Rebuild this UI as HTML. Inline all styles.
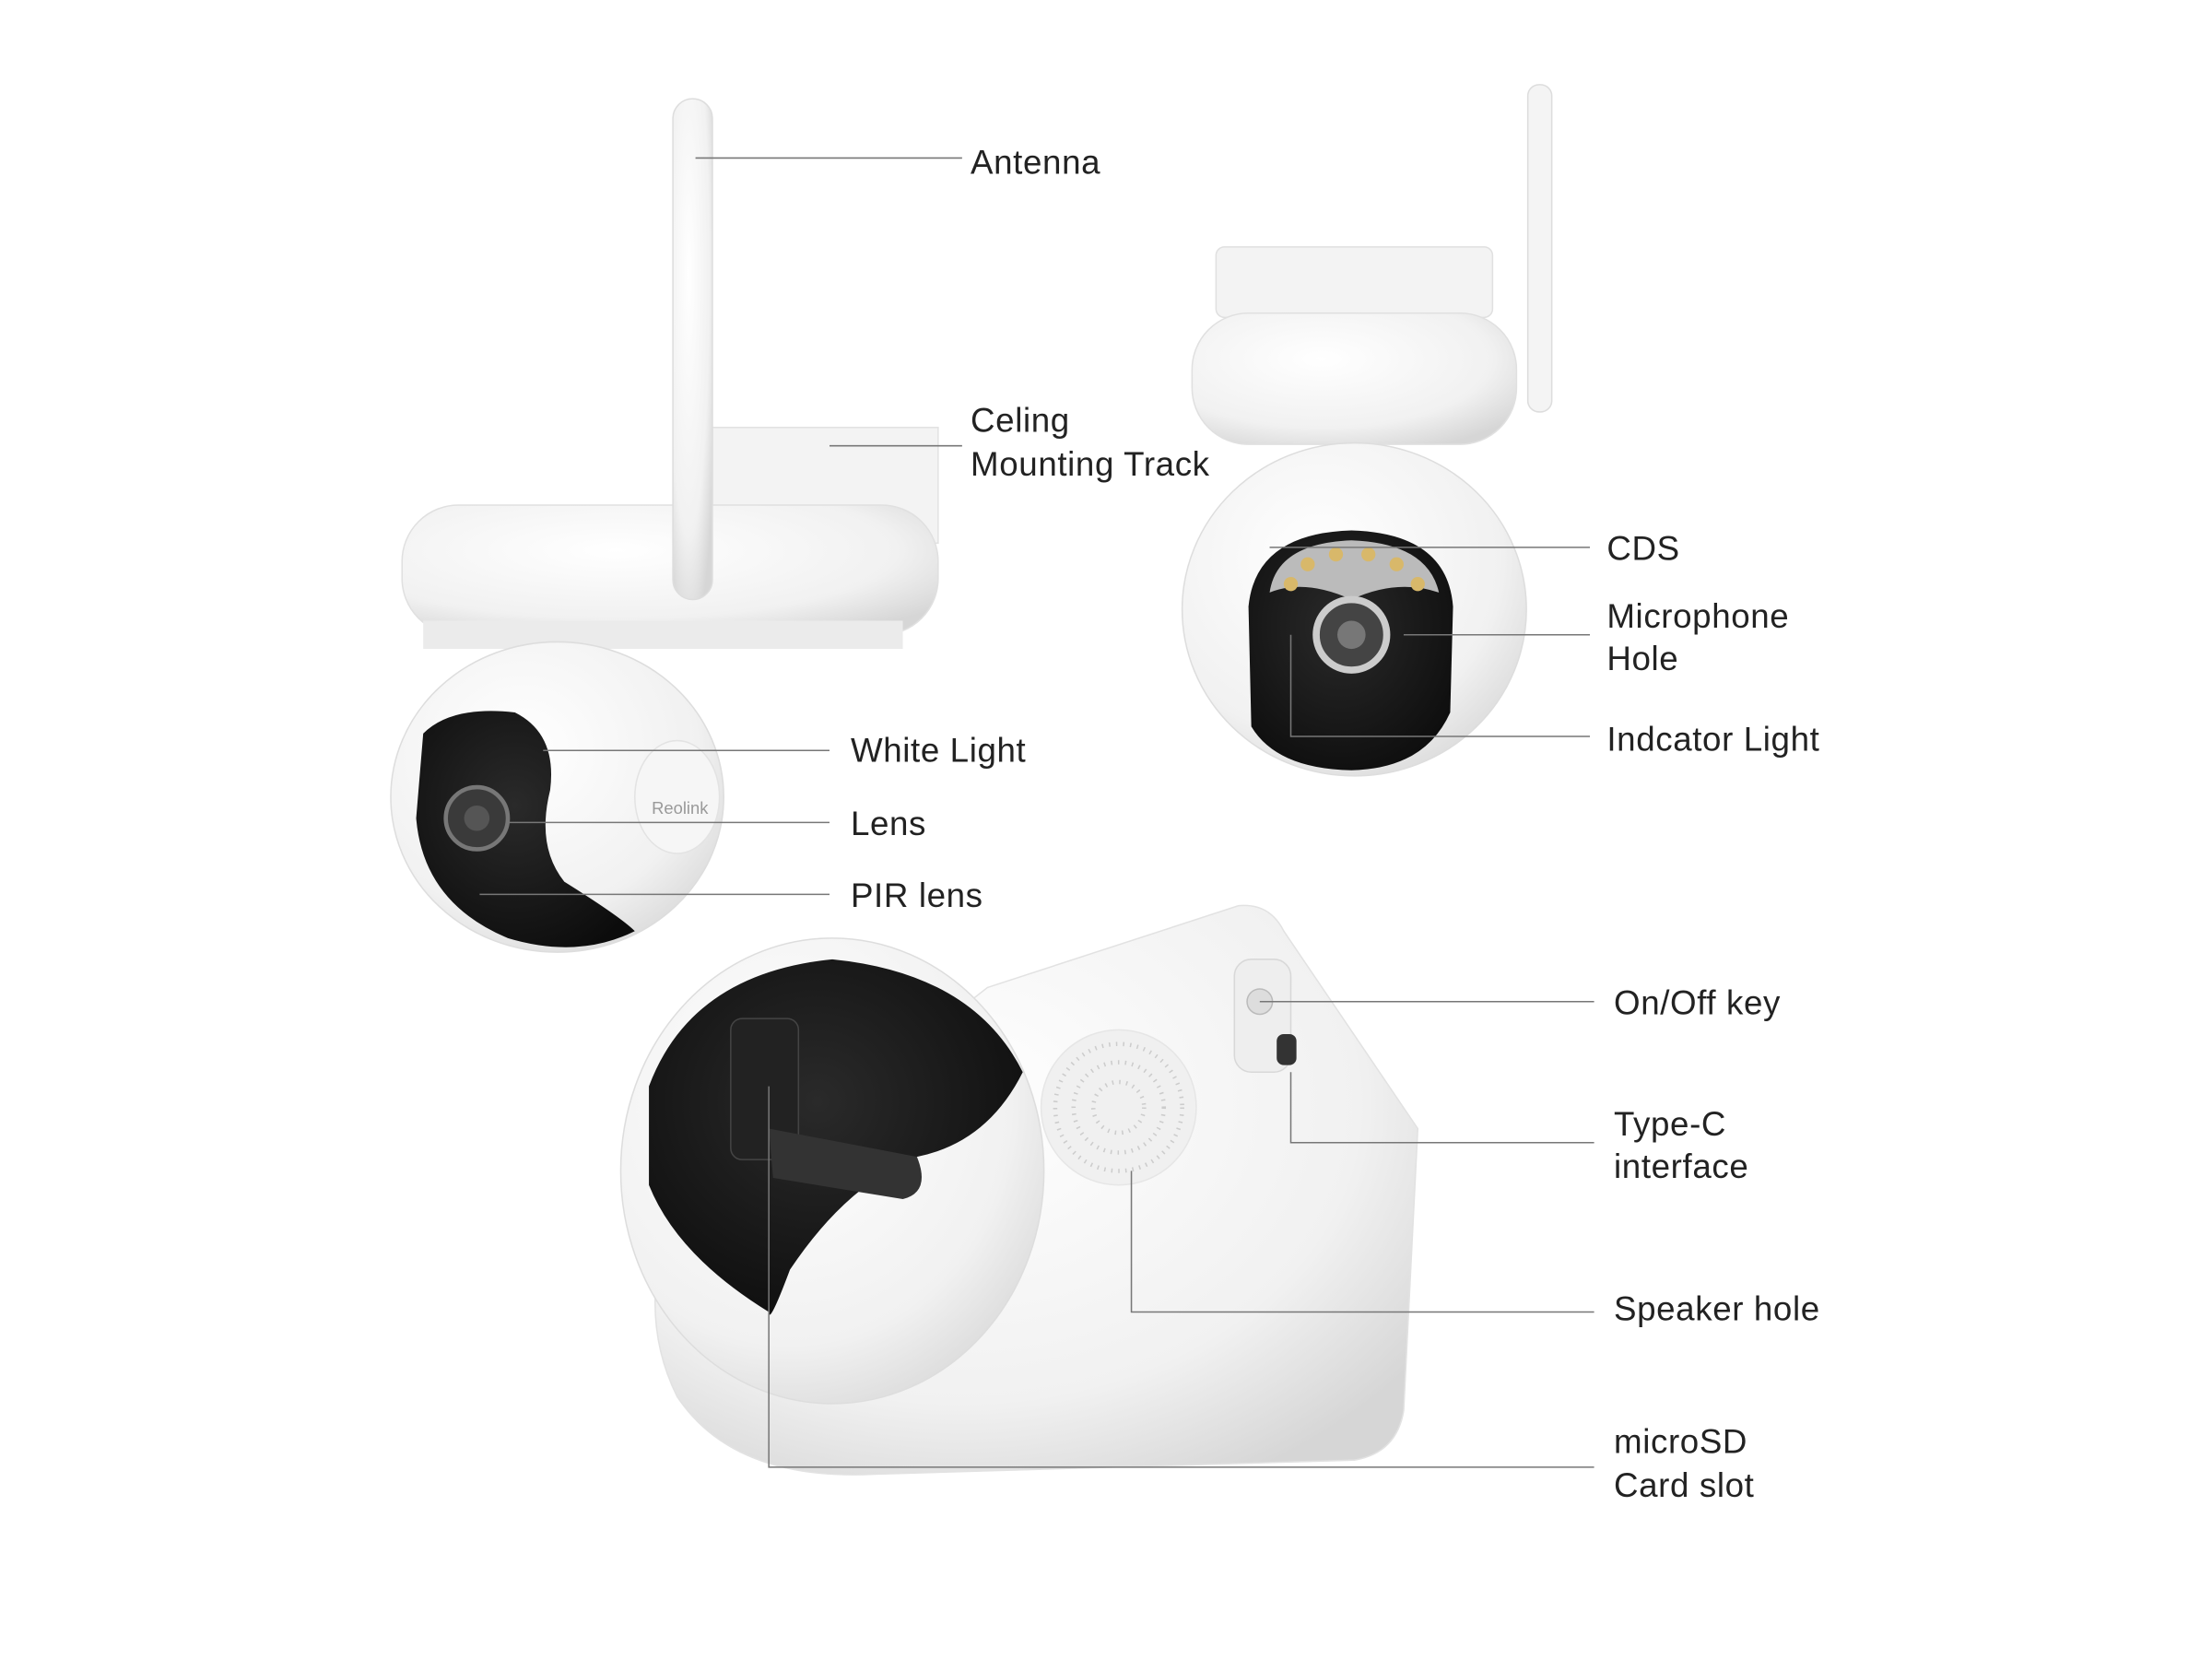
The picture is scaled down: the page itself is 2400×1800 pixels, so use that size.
<!DOCTYPE html>
<html><head><meta charset="utf-8"><style>
html,body{margin:0;padding:0;background:#fff}
svg{display:block}
text{font-family:"Liberation Sans",sans-serif;font-size:24px;letter-spacing:0.4px;fill:#222}
</style></head><body>
<svg width="2400" height="1800" viewBox="0 0 1568 1176" xmlns="http://www.w3.org/2000/svg">
<defs>
<radialGradient id="w" cx="40%" cy="35%" r="75%"><stop offset="0" stop-color="#ffffff"/><stop offset="0.7" stop-color="#f1f1f1"/><stop offset="1" stop-color="#d6d6d6"/></radialGradient>
<radialGradient id="b" cx="45%" cy="40%" r="70%"><stop offset="0" stop-color="#2a2a2a"/><stop offset="1" stop-color="#0c0c0c"/></radialGradient>
</defs>
<!-- Camera 1 -->
<rect x="505" y="303" width="160" height="82" fill="#f3f3f3" stroke="#e2e2e2"/>
<rect x="285" y="358" width="380" height="92" rx="40" fill="url(#w)" stroke="#e0e0e0"/>
<rect x="300" y="440" width="340" height="20" fill="#ebebeb"/>
<ellipse cx="395" cy="565" rx="118" ry="110" fill="url(#w)" stroke="#ddd"/>
<path d="M300 520 Q320 500 365 505 Q395 520 390 560 Q380 600 400 625 Q440 650 450 660 Q410 680 360 665 Q300 640 295 580 Z" fill="url(#b)"/>
<circle cx="338" cy="580" r="22" fill="#3a3a3a" stroke="#777" stroke-width="3"/>
<circle cx="338" cy="580" r="9" fill="#555"/>
<ellipse cx="480" cy="565" rx="30" ry="40" fill="#f6f6f6" stroke="#e3e3e3"/>
<text x="462" y="577" style="font-size:12px;fill:#999;letter-spacing:0">Reolink</text>
<rect x="477" y="70" width="28" height="355" rx="14" fill="url(#w)" stroke="#ddd"/>
<!-- Camera 2 -->
<rect x="862" y="175" width="196" height="50" rx="6" fill="#f3f3f3" stroke="#e0e0e0"/>
<rect x="1083" y="60" width="17" height="232" rx="8" fill="#f4f4f4" stroke="#ddd"/>
<rect x="845" y="222" width="230" height="93" rx="40" fill="url(#w)" stroke="#e0e0e0"/>
<ellipse cx="960" cy="432" rx="122" ry="118" fill="url(#w)" stroke="#ddd"/>
<path d="M885 430 Q890 378 958 376 Q1026 378 1030 430 L1028 505 Q1010 545 958 546 Q905 545 887 515 Z" fill="url(#b)"/>
<path d="M900 420 Q905 385 958 383 Q1012 385 1020 420 Q990 410 958 425 Q925 410 900 420Z" fill="#bbb"/>
<g fill="#d8b86a"><circle cx="915" cy="414" r="5"/><circle cx="927" cy="400" r="5"/><circle cx="947" cy="393" r="5"/><circle cx="970" cy="393" r="5"/><circle cx="990" cy="400" r="5"/><circle cx="1005" cy="414" r="5"/></g>
<circle cx="958" cy="450" r="25" fill="#444" stroke="#ccc" stroke-width="5"/>
<circle cx="958" cy="450" r="10" fill="#777"/>
<!-- Camera 3 -->
<path d="M700 700 L878 642 Q900 640 910 660 L1005 800 L995 1000 Q990 1030 960 1035 L620 1045 Q520 1050 480 990 Q455 940 470 880 L700 700 Z" fill="url(#w)" stroke="#e2e2e2"/>
<circle cx="793" cy="785" r="55" fill="#f0f0f0" stroke="#e6e6e6"/>
<circle cx="793" cy="785" r="45" fill="none" stroke="#ccc" stroke-width="3" stroke-dasharray="1 4"/>
<circle cx="793" cy="785" r="32" fill="none" stroke="#ccc" stroke-width="3" stroke-dasharray="1 4"/>
<circle cx="793" cy="785" r="18" fill="none" stroke="#ccc" stroke-width="3" stroke-dasharray="1 4"/>
<ellipse cx="590" cy="830" rx="150" ry="165" fill="url(#w)" stroke="#ddd"/>
<path d="M460 770 Q490 690 590 680 Q690 690 725 760 Q700 810 650 820 Q600 840 560 900 Q545 940 545 930 Q480 890 460 840 Z" fill="url(#b)"/>
<rect x="518" y="722" width="48" height="100" rx="8" fill="#222" stroke="#444"/>
<path d="M545 800 L650 820 Q660 845 640 850 L548 835 Z" fill="#333"/>
<rect x="875" y="680" width="40" height="80" rx="12" fill="#eee" stroke="#d8d8d8"/>
<circle cx="893" cy="710" r="9" fill="#ddd" stroke="#bbb"/>
<rect x="905" y="733" width="14" height="22" rx="5" fill="#333"/>
<!-- connectors -->
<g stroke="#777" stroke-width="1" fill="none">
<path d="M493 112H682"/><path d="M588 316H682"/>
<path d="M900 388H1127"/><path d="M995 450H1127"/><path d="M915 450V522H1127"/>
<path d="M385 532H588"/><path d="M360 583H588"/><path d="M340 634H588"/>
<path d="M893 710H1130"/><path d="M915 760V810H1130"/><path d="M802 830V930H1130"/><path d="M545 770V1040H1130"/>
</g>
<text x="688" y="123">Antenna</text>
<text x="688" y="306">Celing</text><text x="688" y="337">Mounting Track</text>
<text x="1139" y="397">CDS</text>
<text x="1139" y="445">Microphone</text><text x="1139" y="475">Hole</text>
<text x="1139" y="532">Indcator Light</text>
<text x="603" y="540">White Light</text>
<text x="603" y="592">Lens</text>
<text x="603" y="643">PIR lens</text>
<text x="1144" y="719">On/Off key</text>
<text x="1144" y="805">Type-C</text><text x="1144" y="835">interface</text>
<text x="1144" y="936">Speaker hole</text>
<text x="1144" y="1030">microSD</text><text x="1144" y="1061">Card slot</text>
</svg>
</body></html>
